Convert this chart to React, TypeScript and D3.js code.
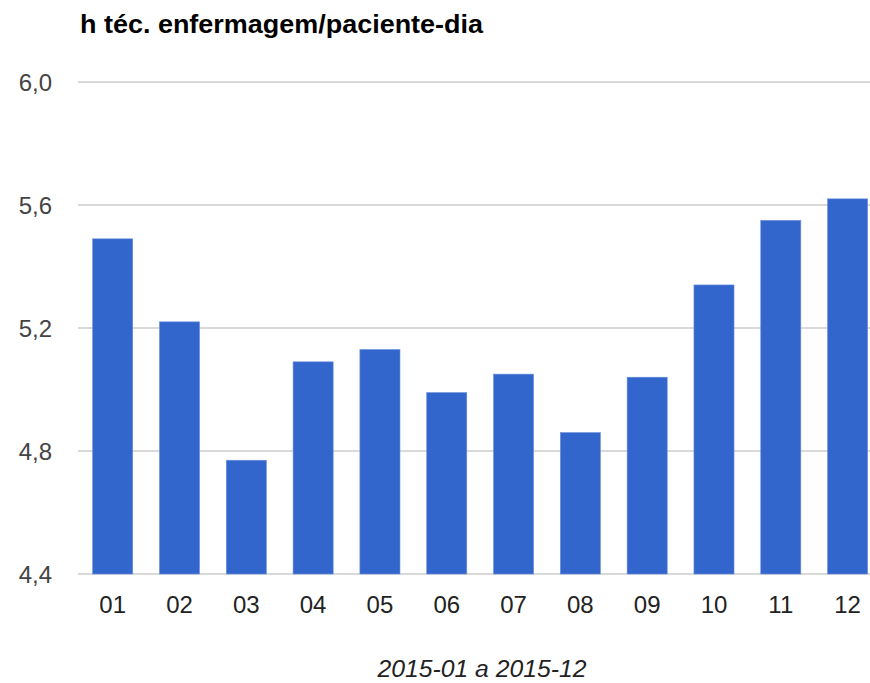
import React from "react";
import * as d3 from "d3";

const categories = ["01", "02", "03", "04", "05", "06", "07", "08", "09", "10", "11", "12"];
const values = [5.49, 5.22, 4.77, 5.09, 5.13, 4.99, 5.05, 4.86, 5.04, 5.34, 5.55, 5.62];
const yTicks = [4.4, 4.8, 5.2, 5.6, 6.0];
const title = "h téc. enfermagem/paciente-dia";
const xTitle = "2015-01 a 2015-12";

export default function App() {
  const W = 870;
  const H = 683;
  const x = d3
    .scaleBand<string>()
    .domain(categories)
    .range([79.3, 881])
    .paddingInner(0.4)
    .paddingOuter(0.2);
  const y = d3.scaleLinear().domain([4.4, 6.0]).range([574, 82]);
  const fmt = (v: number) => v.toFixed(1).replace(".", ",");
  const font = "'Liberation Sans', Arial, sans-serif";

  return (
    <svg
      width={W}
      height={H}
      style={{ position: "absolute", left: 0, top: 0, background: "#fff" }}
      fontFamily={font}
    >
      <rect x={0} y={0} width={W} height={H} fill="#fff" />
      <text
        x={80}
        y={33}
        fontSize={26}
        fontWeight="bold"
        fill="#000"
        textLength={403}
        lengthAdjust="spacingAndGlyphs"
      >
        {title}
      </text>
      {yTicks.map((t) => (
        <g key={t}>
          <line x1={78} x2={W} y1={y(t)} y2={y(t)} stroke="#cccccc" strokeWidth={1.5} />
          <text x={52} y={y(t) + 9} textAnchor="end" fontSize={24} fill="#444">
            {fmt(t)}
          </text>
        </g>
      ))}
      {categories.map((c, i) => (
        <rect
          key={c}
          x={x(c)}
          y={y(values[i])}
          width={x.bandwidth()}
          height={y(4.4) - y(values[i])}
          fill="#3366cc"
          stroke="#6d8fdc"
          strokeWidth={0.6}
        />
      ))}
      {categories.map((c) => (
        <text
          key={c}
          x={(x(c) as number) + x.bandwidth() / 2}
          y={613}
          textAnchor="middle"
          fontSize={24}
          fill="#222"
        >
          {c}
        </text>
      ))}
      <text
        x={482}
        y={677}
        textAnchor="middle"
        fontSize={23}
        fontStyle="italic"
        fill="#222"
        textLength={209}
        lengthAdjust="spacingAndGlyphs"
      >
        {xTitle}
      </text>
    </svg>
  );
}
